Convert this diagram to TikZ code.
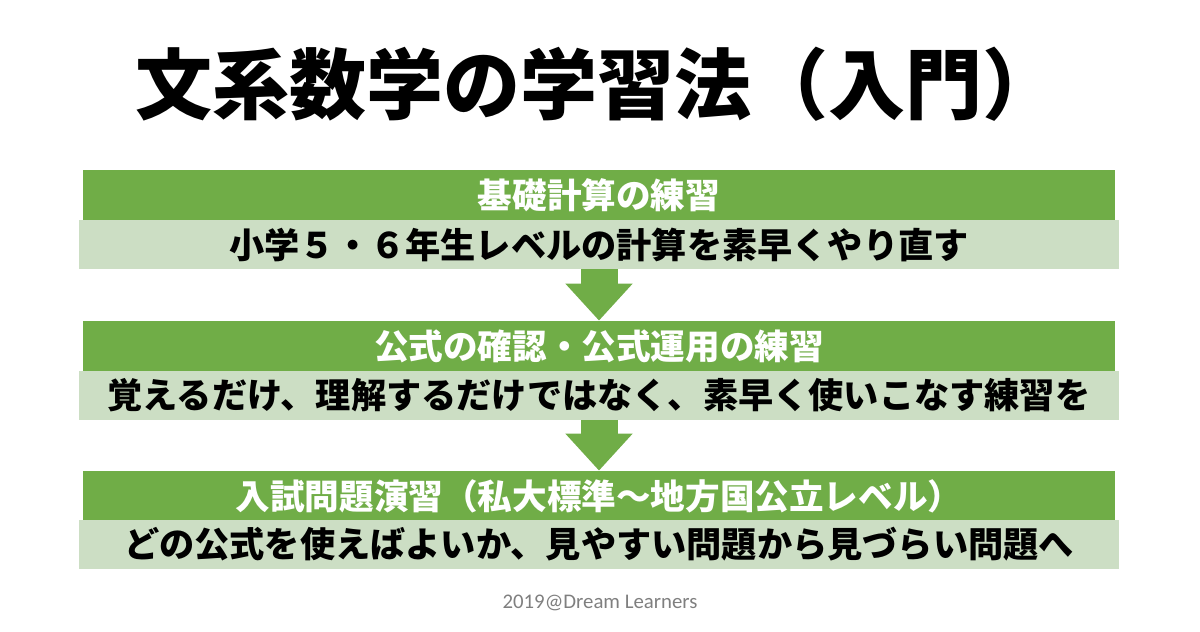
\documentclass[tikz,border=0pt]{standalone}
\usepackage{fontspec}
\usepackage{xcolor}
\usepackage{tikz}
\usetikzlibrary{arrows.meta}
\newfontfamily\jpfont{Noto Sans CJK JP}
\newfontfamily\footfont{Carlito}
\definecolor{stepgreen}{HTML}{70AD47}
\definecolor{steplight}{HTML}{CCDEC4}
\definecolor{footgray}{HTML}{7F7F7F}

\begin{document}
\begin{tikzpicture}[x=0.5pt, y=-0.5pt,
    head/.style={fill=stepgreen, text=white, minimum width=516pt, minimum height=25pt, inner sep=0pt,
        font=\jpfont\bfseries\fontsize{17.3}{20}\selectfont},
    body/.style={fill=steplight, text=black, minimum width=520pt, minimum height=24.5pt, inner sep=0pt,
        font=\jpfont\bfseries\fontsize{17.6}{21}\selectfont},
    flow/.style={stepgreen, line width=18.5pt, -{Triangle[length=18.5pt, width=32.5pt]}}]
    \useasboundingbox (0,0) rectangle (1200,632);

    % Title
    \node (title) at (597,84) {\jpfont\bfseries\fontsize{38.5}{44}\selectfont 文系数学の学習法（入門）};

    % Steps
    \node[head] (head1) at (599,195) {基礎計算の練習};
    \node[body] (body1) at (599,244.5) {小学５・６年生レベルの計算を素早くやり直す};
    \node[head] (head2) at (599,346) {公式の確認・公式運用の練習};
    \node[body] (body2) at (599,395) {覚えるだけ、理解するだけではなく、素早く使いこなす練習を};
    \node[head] (head3) at (599,496) {入試問題演習（私大標準〜地方国公立レベル）};
    \node[body] (body3) at (599,544) {どの公式を使えばよいか、見やすい問題から見づらい問題へ};

    % Arrows
    \draw[flow] (body1.south) -- (head2.north);
    \draw[flow] (body2.south) -- (head3.north);

    % Footer
    \node[text=footgray, font=\footfont\fontsize{10.4}{12}\selectfont] (credit) at (600,603) {2019@Dream Learners};
\end{tikzpicture}
\end{document}
